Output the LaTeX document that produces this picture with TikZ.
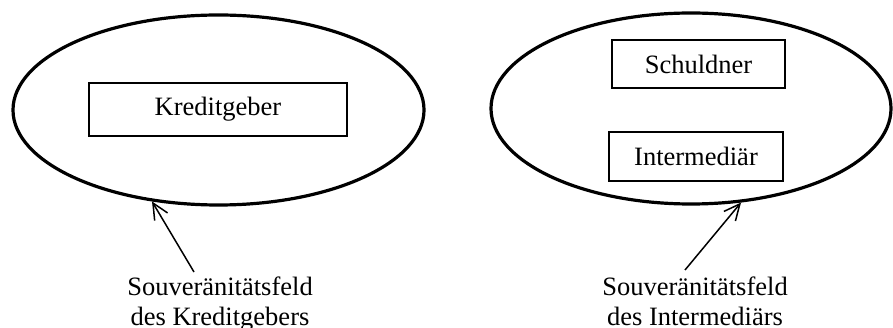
\documentclass[tikz,border=0pt]{standalone}
\usepackage{fontspec}
\setmainfont{Liberation Serif}
\usetikzlibrary{arrows.meta,shapes.geometric}
\begin{document}
\begin{tikzpicture}[x=1pt,y=-1pt,
  field/.style={draw,ellipse,line width=3.2pt,inner sep=0pt},
  actor/.style={draw,rectangle,line width=1.8pt,inner sep=0pt,font=\fontsize{26.5}{30}\selectfont},
  lbl/.style={align=center,inner sep=0pt,anchor=north,font=\fontsize{26.5}{30}\selectfont},
  pointer/.style={line width=1.5pt,-{Straight Barb[length=16pt,width=15pt,line width=1.5pt]}}
]
\useasboundingbox (0,0) rectangle (893,328);
\node[field,minimum width=411pt,minimum height=190pt] (ellL) at (218.5,110) {};
\node[field,minimum width=400pt,minimum height=191pt] (ellR) at (691,108.5) {};
\node[actor,minimum width=258pt,minimum height=53pt] (kred) at (218,109.5) {Kreditgeber};
\node[actor,minimum width=173pt,minimum height=48pt] (schu) at (698.5,64) {Schuldner};
\node[actor,minimum width=174pt,minimum height=49pt] (inter) at (696,156.5) {Intermediär};
\node[lbl] (lblL) at (220,277) {Souveränitätsfeld\\des Kreditgebers};
\node[lbl] (lblR) at (695,277) {Souveränitätsfeld\\des Intermediärs};
\coordinate (tL) at (194,272);
\coordinate (tR) at (685,270);
\draw[pointer] (tL) -- (ellL.234);
\draw[pointer] (tR) -- (ellR.298);
\end{tikzpicture}
\end{document}
